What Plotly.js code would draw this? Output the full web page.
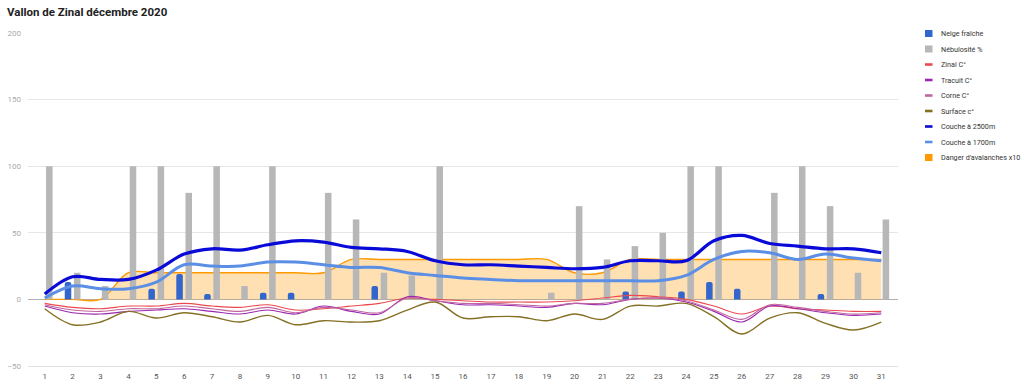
<!DOCTYPE html>
<html>
<head>
<meta charset="utf-8">
<script src="https://cdn.plot.ly/plotly-3.0.1.min.js"></script>
<style>html,body{margin:0;padding:0;background:#fff;}#chart{width:1024px;height:386px;}</style>
</head>
<body>
<div id="chart"></div>
<script>
const days = ['1','2','3','4','5','6','7','8','9','10','11','12','13','14','15','16','17','18','19','20','21','22','23','24','25','26','27','28','29','30','31'];
const neigeFraiche = [0,13,0,0,8,19,4,0,5,5,0,0,10,0,0,0,0,0,0,0,0,6,0,6,13,8,0,0,4,0,0];
const nebulosite = [100,20,10,100,100,80,100,10,100,0,80,60,20,18,100,0,0,0,5,70,30,40,50,100,100,0,80,100,70,20,60];
const zinal = [-3,-6,-7,-5,-5,-3,-5,-6,-4,-8,-7,-5,-3,1,0,-1,-2,-2,-2,-1,1,3,2,0,-5,-11,-5,-7,-8,-9,-9];
const tracuit = [-5,-10,-11,-9,-8,-7,-9,-11,-8,-11,-5,-9,-11,2,-1,-4,-4,-5,-6,-3,-4,0,1,-2,-9,-17,-5,-7,-10,-12,-11];
const corne = [-4,-8,-9,-7,-7,-5,-7,-9,-6,-10,-6,-8,-10,1,-1,-3,-3,-4,-5,-3,-3,0,1,-1,-8,-15,-4,-6,-9,-11,-10];
const surface = [-7,-19,-17,-9,-14,-10,-13,-17,-12,-19,-16,-17,-16,-8,-2,-14,-13,-13,-16,-11,-15,-5,-5,-3,-13,-26,-14,-10,-18,-23,-17];
const couche2500 = [4,17,15,15,22,34,38,37,41,44,43,39,38,36,29,26,26,25,24,23,24,29,29,29,44,48,42,40,38,38,35];
const couche1700 = [1,10,8,8,13,26,25,25,28,28,26,24,24,20,18,16,15,14,14,14,14,14,14,18,30,36,35,30,34,31,29];
const danger = [0,0,0,20,20,20,20,20,20,20,20,30,30,30,30,30,30,30,30,20,20,30,30,30,30,30,30,30,30,30,30];

function line(name, y, color, width) {
  return {type:'scatter', mode:'lines', name:name, x:days, y:y, yaxis:'y3',
          line:{color:color, width:width, shape:'spline', smoothing:1}};
}

const data = [
  {type:'bar', name:'Neige fraîche', x:days, y:neigeFraiche, yaxis:'y2',
   marker:{color:'#3366cc', cornerradius:2}},
  {type:'bar', name:'Nébulosité %', x:days, y:nebulosite, yaxis:'y2',
   marker:{color:'#b7b7b7'}},
  line('Zinal C°', zinal, '#ea4a4f', 1.1),
  line('Tracuit C°', tracuit, '#9c27b0', 1.1),
  line('Corne C°', corne, '#c0669e', 1.1),
  line('Surface c°', surface, '#857024', 1.4),
  line('Couche à 2500m', couche2500, '#0a0ad8', 3.2),
  line('Couche à 1700m', couche1700, '#5b8fe6', 3),
  {type:'scatter', mode:'lines', name:"Danger d'avalanches x10", x:days, y:danger, yaxis:'y',
   fill:'tozeroy', fillcolor:'rgba(255,153,0,0.3)',
   line:{color:'#ff9900', width:1.4, shape:'spline', smoothing:1}}
];

// plot-area pixel geometry -> paper coordinates (for the custom legend)
const M = {l:28, r:126, t:33, b:20};
const W = 1024, H = 386;
const pw = W - M.l - M.r, ph = H - M.t - M.b;
const px = X => (X - M.l) / pw;
const py = Y => (H - M.b - Y) / ph;

const shapes = [], annotations = [];
data.forEach((tr, i) => {
  const yc = 33.5 + i * 15.5;
  const isBox = tr.type === 'bar' || tr.fill;
  const col = tr.type === 'bar' ? tr.marker.color : tr.line.color;
  const hh = isBox ? 3.5 : 1.3;
  shapes.push({type:'rect', xref:'paper', yref:'paper', layer:'above',
    x0:px(925), x1:px(932.5), y0:py(yc + hh), y1:py(yc - hh),
    fillcolor:col, line:{width:0}});
  annotations.push({xref:'paper', yref:'paper', x:px(939), y:py(yc), xanchor:'left', yanchor:'middle',
    text:tr.name, showarrow:false, font:{family:'Roboto, sans-serif', size:7.2, color:'#333'}});
});

const yr = [-50, 200];
const layout = {
  width:W, height:H,
  margin:{l:M.l, r:M.r, t:M.t, b:M.b, pad:0},
  paper_bgcolor:'#fff', plot_bgcolor:'#fff',
  font:{family:'Roboto, sans-serif', size:8, color:'#444'},
  title:{text:'Vallon de Zinal décembre 2020', x:7/1024, xanchor:'left', y:1-12/386, yanchor:'middle',
         font:{family:'Roboto, sans-serif', size:11.5, color:'#222', weight:'bold'}},
  showlegend:false,
  shapes:shapes, annotations:annotations,
  barmode:'group', bargap:0.34, bargroupgap:0.29,
  xaxis:{type:'category', range:[-0.6, 30.6], showgrid:false, zeroline:false,
         showline:true, linecolor:'#e3e3e3', linewidth:1,
         ticks:'', tickfont:{size:8, color:'#555555'}, ticklabelstandoff:2, fixedrange:true},
  yaxis:{range:yr, dtick:50, tick0:0, showgrid:true, gridcolor:'#e6e6e6', gridwidth:1,
         zeroline:true, zerolinecolor:'#b0b0b0', zerolinewidth:1,
         ticks:'', tickfont:{size:8, color:'#aaaaaa'}, ticklabelstandoff:6, showline:false},
  yaxis2:{range:yr, overlaying:'y', visible:false, showgrid:false, zeroline:false},
  yaxis3:{range:yr, overlaying:'y', visible:false, showgrid:false, zeroline:false}
};

Plotly.newPlot('chart', data, layout, {displayModeBar:false, staticPlot:true});
</script>
</body>
</html>
